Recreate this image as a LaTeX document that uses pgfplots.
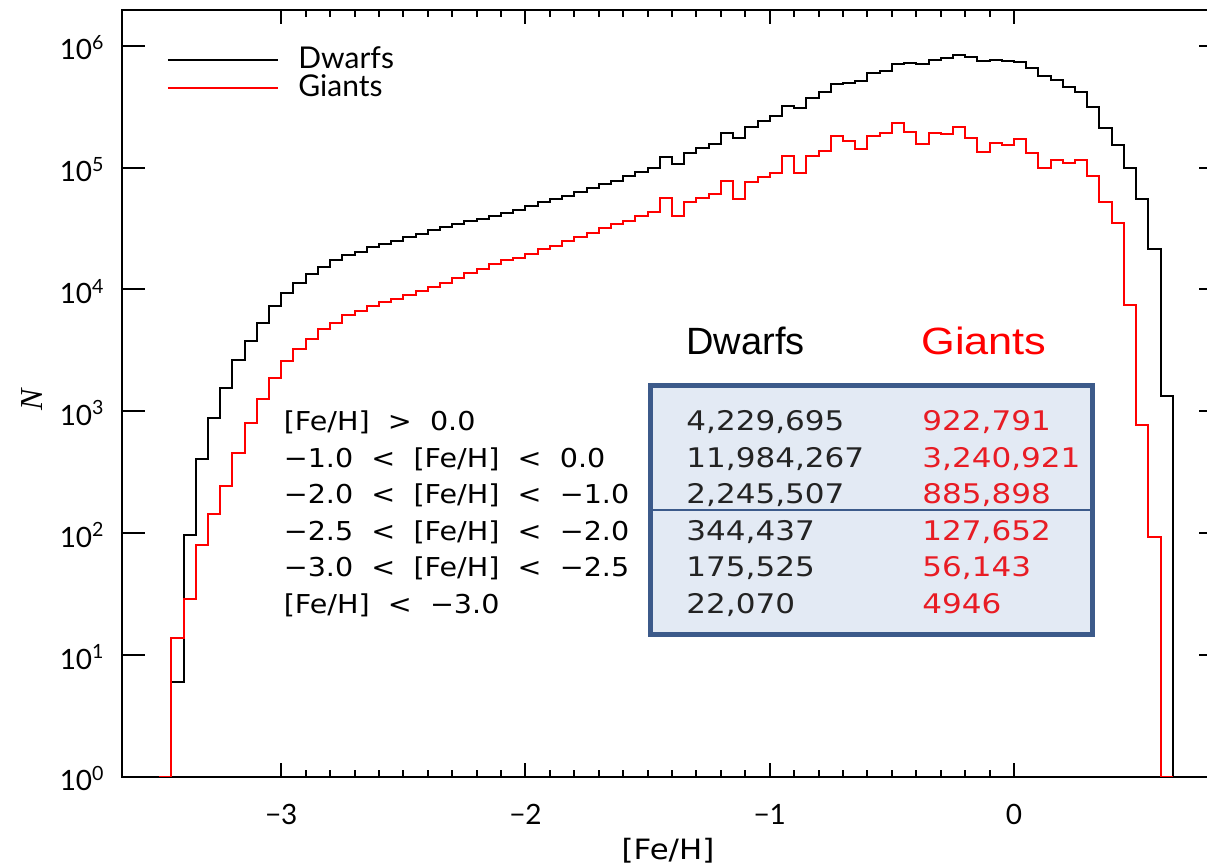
\documentclass[border=0pt]{standalone}
\usepackage{pgfplots}
\pgfplotsset{compat=1.18}
\usepackage{pgfplotstable}
\usepackage{graphicx}
\usepackage{fontspec}
\setmainfont{Lato}
\newfontfamily\headfont{Liberation Sans}
\newfontfamily\seriffont{Liberation Serif}
\newfontfamily\idlfont[FakeStretch=1.1]{DejaVu Sans}
\newfontfamily\numfont[FakeStretch=1.15]{DejaVu Sans}
\definecolor{boxblue}{RGB}{60,90,138}
\definecolor{boxfill}{RGB}{227,234,244}
\definecolor{numgray}{RGB}{35,35,35}
\definecolor{numred}{RGB}{232,28,36}

\pgfplotstableread{
x y
-3.50 1
-3.45 6
-3.40 96
-3.35 406
-3.30 889
-3.25 1549
-3.20 2648
-3.15 3765
-3.10 5348
-3.05 7362
-3.00 9270
-2.95 11270
-2.90 13300
-2.85 15340
-2.80 17540
-2.75 19230
-2.70 20420
-2.65 22390
-2.60 23550
-2.55 25170
-2.50 27040
-2.45 28570
-2.40 30480
-2.35 32360
-2.30 34200
-2.25 36480
-2.20 37760
-2.15 39720
-2.10 42280
-2.05 45070
-2.00 47990
-1.95 51800
-1.90 55100
-1.85 58650
-1.80 63270
-1.75 67480
-1.70 73250
-1.65 78220
-1.60 85150
-1.55 92420
-1.50 99600
-1.45 121300
-1.40 106200
-1.35 130800
-1.30 143800
-1.25 156000
-1.20 190900
-1.15 175700
-1.10 213800
-1.05 241000
-1.00 266200
-0.95 319900
-0.90 306200
-0.85 369800
-0.80 414000
-0.75 485200
-0.70 496700
-0.65 516300
-0.60 593100
-0.55 625300
-0.50 707900
-0.45 716500
-0.40 703200
-0.35 763400
-0.30 788300
-0.25 834100
-0.20 803100
-0.15 748500
-0.10 763400
-0.05 748500
0.00 730800
0.05 659500
0.10 567300
0.15 522700
0.20 460500
0.25 420600
0.30 315700
0.35 211000
0.40 153000
0.45 98500
0.50 55600
0.55 21540
0.60 1337
0.65 1
0.70 1
}\dwarfs

\pgfplotstableread{
x y
-3.50 1
-3.45 13.9
-3.40 28.7
-3.35 80.3
-3.30 144
-3.25 245
-3.20 455
-3.15 805
-3.10 1268
-3.05 1884
-3.00 2578
-2.95 3236
-2.90 3892
-2.85 4722
-2.80 5338
-2.75 6152
-2.70 6699
-2.65 7348
-2.60 7871
-2.55 8300
-2.50 9064
-2.45 9643
-2.40 10500
-2.35 11370
-2.30 12500
-2.25 13620
-2.20 14630
-2.15 16080
-2.10 17340
-2.05 18150
-2.00 19380
-1.95 21420
-1.90 22800
-1.85 24920
-1.80 27040
-1.75 29170
-1.70 31690
-1.65 34570
-1.60 36380
-1.55 39990
-1.50 42870
-1.45 55850
-1.40 40200
-1.35 51790
-1.30 55850
-1.25 60250
-1.20 77480
-1.15 55110
-1.10 75580
-1.05 83140
-1.00 89600
-0.95 124300
-0.90 89600
-0.85 125000
-0.80 136500
-0.75 182500
-0.70 165100
-0.65 141000
-0.60 182500
-0.55 190900
-0.50 233300
-0.45 196700
-0.40 156000
-0.35 190900
-0.30 187400
-0.25 216300
-0.20 173800
-0.15 133300
-0.10 159900
-0.05 153000
0.00 170500
0.05 130800
0.10 98500
0.15 115300
0.20 108200
0.25 115300
0.30 85150
0.35 51790
0.40 35220
0.45 7516
0.50 769
0.55 93.4
0.60 1
0.65 1
}\giants

\begin{document}
\begin{tikzpicture}
\useasboundingbox (-61pt,-45pt) rectangle (542.5pt,388.5pt);
\begin{axis}[
  at={(0pt,0pt)}, anchor=south west,
  scale only axis, width=549.8pt, height=383.5pt,
  xmin=-3.652, xmax=0.85,
  ymode=log, ymin=1, ymax=1.963e6,
  axis line style={line width=1pt},
  tick pos=both, tick align=inside,
  xtick={-3,-2,-1,0}, xticklabels={−3,−2,−1,0},
  minor x tick num=9,
  ytick={1,10,100,1000,10000,100000,1000000},
  yticklabels={10\textsuperscript{0},10\textsuperscript{1},10\textsuperscript{2},10\textsuperscript{3},10\textsuperscript{4},10\textsuperscript{5},10\textsuperscript{6}},
  yminorticks=false,
  major tick style={line width=1pt, black},
  minor tick style={line width=1pt, black},
  xtick style={/pgfplots/major tick length=7pt, /pgfplots/minor tick length=3.5pt},
  ytick style={/pgfplots/major tick length=11.5pt},
  xticklabel style={font=\fontsize{14}{14}\selectfont, anchor=base, inner sep=0pt, yshift=-24pt},
  yticklabel style={font=\fontsize{14}{14}\selectfont, anchor=base east, inner sep=0pt, xshift=-8.5pt, yshift=-7pt},
  clip=true,
]
\addplot[const plot, black, line width=1pt] table[x=x, y=y] {\dwarfs};
\addplot[const plot, red, line width=1pt] table[x=x, y=y] {\giants};
\end{axis}

% axis title labels
\node[font=\idlfont\fontsize{14}{14}\selectfont, anchor=base, inner sep=0pt] at (273pt,-41.5pt) {[Fe/H]};
\node[font=\seriffont\itshape\fontsize{16}{16}\selectfont, rotate=90] at (-45pt,188.5pt) {N};

% legend
\draw[black, line width=1pt] (23pt,358.5pt) -- (78pt,358.5pt);
\draw[red, line width=1pt] (23pt,344.3pt) -- (78pt,344.3pt);
\node[font=\fontsize{15}{15}\selectfont, anchor=base west, inner sep=0pt] at (88pt,354.3pt) {Dwarfs};
\node[font=\fontsize{15}{15}\selectfont, anchor=base west, inner sep=0pt] at (88pt,340pt) {Giants};

% range labels
\begin{scope}[every node/.style={font=\idlfont\fontsize{13}{13}\selectfont, anchor=base west, inner sep=0pt}]
\node at (80.7pt,173pt) {[Fe/H]\ \ >\ \ 0.0};
\node at (80.7pt,154.5pt) {−1.0\ \ <\ \ [Fe/H]\ \ <\ \ 0.0};
\node at (80.7pt,136.5pt) {−2.0\ \ <\ \ [Fe/H]\ \ <\ \ −1.0};
\node at (80.7pt,118pt) {−2.5\ \ <\ \ [Fe/H]\ \ <\ \ −2.0};
\node at (80.7pt,100pt) {−3.0\ \ <\ \ [Fe/H]\ \ <\ \ −2.5};
\node at (80.7pt,81.5pt) {[Fe/H]\ \ <\ \ −3.0};
\end{scope}

% box
\draw[line width=2.75pt, draw=boxblue, fill=boxfill] (264.25pt,195.75pt) rectangle (485.25pt,71.25pt);
\draw[line width=0.9pt, boxblue] (264.25pt,133.5pt) -- (485.25pt,133.5pt);

% headers
\node[font=\headfont\fontsize{19}{19}\selectfont, anchor=base west, inner sep=0pt] at (282pt,211pt) {Dwarfs};
\node[font=\headfont\fontsize{19}{19}\selectfont, anchor=base west, inner sep=0pt, text=red] at (399.5pt,211pt) {\scalebox{1.14}[1]{Giants}};

\begin{scope}[every node/.style={font=\numfont\fontsize{13.5}{13.5}\selectfont, anchor=base west, inner sep=0pt}]
\node[text=numgray] at (282pt,173pt) {4,229,695};
\node[text=numgray] at (282pt,154.5pt) {11,984,267};
\node[text=numgray] at (282pt,136.5pt) {2,245,507};
\node[text=numgray] at (282pt,118pt) {344,437};
\node[text=numgray] at (282pt,100pt) {175,525};
\node[text=numgray] at (282pt,81.5pt) {22,070};
\node[text=numred] at (400pt,173pt) {922,791};
\node[text=numred] at (400pt,154.5pt) {3,240,921};
\node[text=numred] at (400pt,136.5pt) {885,898};
\node[text=numred] at (400pt,118pt) {127,652};
\node[text=numred] at (400pt,100pt) {56,143};
\node[text=numred] at (400pt,81.5pt) {4946};
\end{scope}
\end{tikzpicture}
\end{document}
